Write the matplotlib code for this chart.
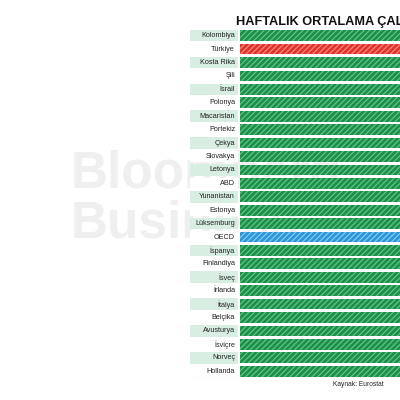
import matplotlib
matplotlib.use('Agg')
import matplotlib.pyplot as plt
import numpy as np

plt.rcParams['font.family'] = ['Liberation Sans', 'DejaVu Sans']
plt.rcParams['hatch.linewidth'] = 0.9

countries = ['Kolombiya', 'Türkiye', 'Kosta Rika', 'Şili', 'İsrail', 'Polonya',
             'Macaristan', 'Portekiz', 'Çekya', 'Slovakya', 'Letonya', 'ABD',
             'Yunanistan', 'Estonya', 'Lüksemburg', 'OECD', 'İspanya',
             'Finlandiya', 'İsveç', 'İrlanda', 'İtalya', 'Belçika', 'Avusturya',
             'İsviçre', 'Norveç', 'Hollanda']
# weekly hours (bars are cut off at the right edge of the picture)
hours = [47.6, 44.6, 43.9, 42.5, 40.6, 40.4, 39.9, 39.6, 39.2, 39.1, 39.0,
         38.7, 38.6, 38.5, 38.2, 37.9, 37.8, 37.5, 37.2, 37.0, 36.9, 36.7,
         36.5, 36.3, 34.2, 32.2]

title = 'HAFTALIK ORTALAMA ÇALIŞMA SAATİ'
source = 'Kaynak: Eurostat'
watermark = ['Bloomberg', 'Business']

GREEN, GREEN_H = '#1f8d4c', '#5cc784'
RED, RED_H = '#e3312c', '#f58a7c'
BLUE, BLUE_H = '#2e93d8', '#7fcdf2'
MINT = '#d8eee2'

fig = plt.figure(figsize=(4, 4), dpi=100)

# watermark, mostly hidden behind the label column
for k, word in enumerate(watermark):
    fig.text(71 / 400, 1 - (150 + 50 * k) / 400, word, fontsize=37,
             fontweight='bold', color='#efefef', ha='left', va='top',
             zorder=0)

n = len(countries)
row_h = 13.42
top_px, left_px = 29, 189
ax = fig.add_axes([left_px / 400, 1 - (top_px + n * row_h) / 400,
                   (400 - left_px) / 400, n * row_h / 400])
ax.set_zorder(1)
ax.patch.set_alpha(0)

px_per_unit = 13.3
cell_w = 48 / px_per_unit
gap = 3 / px_per_unit
ax.set_xlim(-cell_w - gap, (400 - left_px) / px_per_unit - cell_w - gap)
ax.set_ylim(n - 0.5, -0.5)

y = np.arange(n)
cell_colors = [MINT if i % 2 == 0 else 'white' for i in range(n)]
ax.barh(y, cell_w, left=-cell_w - gap + 0.05, height=0.86, color=cell_colors,
        linewidth=0)

for i, (c, v) in enumerate(zip(countries, hours)):
    if c == 'Türkiye':
        fc, hc = RED, RED_H
    elif c == 'OECD':
        fc, hc = BLUE, BLUE_H
    else:
        fc, hc = GREEN, GREEN_H
    ax.barh(i, v, height=0.8, color=fc, edgecolor=hc, hatch='//////',
            linewidth=0)
    ax.text(-gap - 0.15, i, c, ha='right', va='center', fontsize=5.2,
            color='#222222')

ax.axhline(n - 0.5, color='#bbbbbb', lw=0.8)
ax.axis('off')

fig.text(236 / 400, 1 - 25 / 400, title, fontsize=9.2, fontweight='bold',
         ha='left', va='baseline', color='#111111')
fig.text(333 / 400, 1 - 385 / 400, source, fontsize=4.8, ha='left',
         va='center', color='#222222')

fig.savefig('out.png', dpi=100)
